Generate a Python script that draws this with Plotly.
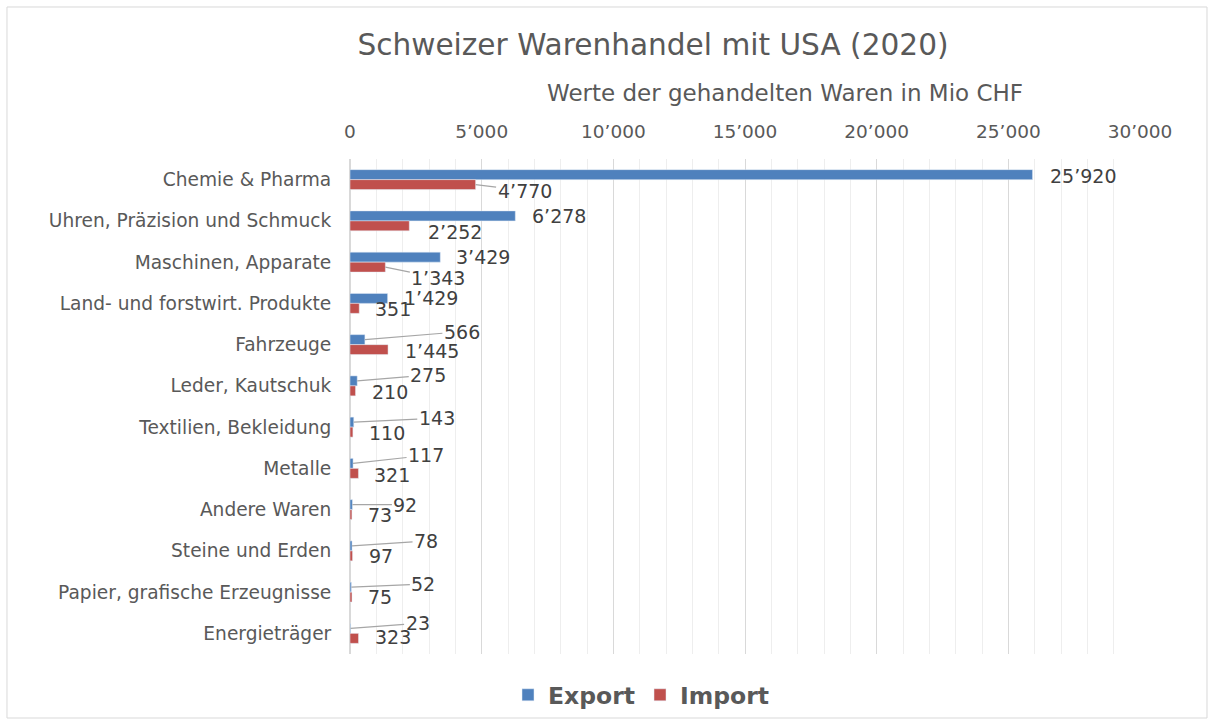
import plotly.graph_objects as go

categories = ["Chemie & Pharma", "Uhren, Präzision und Schmuck", "Maschinen, Apparate",
              "Land- und forstwirt. Produkte", "Fahrzeuge", "Leder, Kautschuk",
              "Textilien, Bekleidung", "Metalle", "Andere Waren", "Steine und Erden",
              "Papier, grafische Erzeugnisse", "Energieträger"]
export_values = [25920, 6278, 3429, 1429, 566, 275, 143, 117, 92, 78, 52, 23]
import_values = [4770, 2252, 1343, 351, 1445, 210, 110, 321, 73, 97, 75, 323]
x_tick_values = [0, 5000, 10000, 15000, 20000, 25000, 30000]

# label placement (pixel offsets of label centre from bar end) and leader-line flags
export_label_dx = [50, 44, 43, 43, 97, 71, 83, 73, 53, 74, 72, 67]
export_label_dy = [1, 0, 0, 0, -8, -6, -4, -8, 0, -5, -3, -5]
export_leader = [False, False, False, False, True, True, True, True, True, True, True, True]
import_label_dx = [49, 46, 53, 34, 44, 34, 34, 34, 28, 28, 28, 34]
import_label_dy = [6, 6, 11, 1, 1, 1, 1, 2, 0, 0, 0, -1]
import_leader = [True, False, True, False, False, False, False, False, False, False, False, False]

FONT = "DejaVu Sans"
EXPORT_COLOR = "#4F81BD"
IMPORT_COLOR = "#C0504D"


def fmt(v):
    return f"{v:,}".replace(",", "\u2019")


fig = go.Figure()
fig.add_trace(go.Bar(y=categories, x=export_values, orientation="h", name="Export",
                     marker=dict(color=EXPORT_COLOR), hoverinfo="x+y"))
fig.add_trace(go.Bar(y=categories, x=import_values, orientation="h", name="Import",
                     marker=dict(color=IMPORT_COLOR), hoverinfo="x+y"))

half = 0.121
annotations = []
for i, cat in enumerate(categories):
    for vals, dxs, dys, leads, off in ((export_values, export_label_dx, export_label_dy, export_leader, -half),
                                       (import_values, import_label_dx, import_label_dy, import_leader, half)):
        annotations.append(dict(
            x=vals[i], y=i + off, xref="x", yref="y",
            text=fmt(vals[i]), showarrow=True, arrowhead=0, arrowwidth=1.2,
            arrowcolor="#A6A6A6" if leads[i] else "rgba(0,0,0,0)",
            ax=dxs[i], ay=dys[i], standoff=0, startstandoff=0,
            font=dict(family=FONT, size=19, color="#404040"),
            xanchor="center", yanchor="middle",
        ))

# axis title
annotations.append(dict(text="Werte der gehandelten Waren in Mio CHF", x=0.5506, y=1.1333,
                        xref="paper", yref="paper", showarrow=False, xanchor="center",
                        yanchor="middle", font=dict(family=FONT, size=23, color="#595959")))

fig.update_layout(
    width=1214, height=725,
    margin=dict(l=350, r=74, t=159, b=71, autoexpand=False),
    paper_bgcolor="white", plot_bgcolor="white",
    barmode="group", bargap=0.516, bargroupgap=0,
    font=dict(family=FONT, color="#595959"),
    title=dict(text="Schweizer Warenhandel mit USA (2020)", x=0.3835, xref="paper",
               xanchor="center", y=1 - 45 / 725, yref="container", yanchor="middle",
               font=dict(family=FONT, size=29.6, color="#595959")),
    xaxis=dict(side="top", range=[0, 30000], tickvals=x_tick_values,
               ticktext=[fmt(v) for v in x_tick_values],
               showgrid=True, gridcolor="#D9D9D9", gridwidth=1.3,
               minor=dict(dtick=1000, tick0=0, showgrid=True, gridcolor="#EEEEEE", gridwidth=1),
               zeroline=True, zerolinecolor="#D9D9D9", zerolinewidth=2,
               ticks="outside", ticklen=13, tickcolor="rgba(0,0,0,0)",
               tickfont=dict(family=FONT, size=18.5, color="#595959"), showline=False,
               fixedrange=True, automargin=False),
    yaxis=dict(type="category", range=[11.5, -0.5], showgrid=False, zeroline=False,
               ticks="outside", ticklen=14, tickcolor="rgba(0,0,0,0)",
               tickfont=dict(family=FONT, size=18.6, color="#595959"), showline=False,
               fixedrange=True, automargin=False),
    legend=dict(orientation="h", x=0.369, xanchor="center", y=1 - 695 / 725, yref="container",
                yanchor="middle",
                font=dict(family=FONT, size=23.5, color="#595959", weight="bold"),
                itemwidth=30, traceorder="normal"),
    annotations=annotations,
    shapes=[dict(type="rect", xref="paper", yref="paper", x0=-0.4342, x1=1.0848,
                 y0=-0.1293, y1=1.3071, line=dict(color="#D9D9D9", width=1),
                 fillcolor="rgba(0,0,0,0)", layer="below")],
)

fig.write_html("out.html", config={"displayModeBar": False},
               post_script="document.body.style.margin='0px';")
